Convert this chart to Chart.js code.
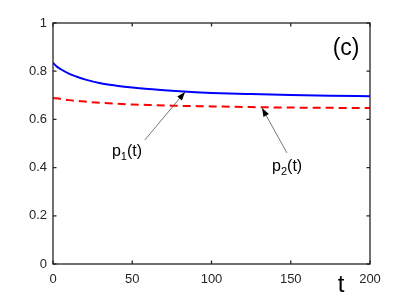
<!DOCTYPE html>
<html>
<head>
<meta charset="utf-8">
<script src="https://cdn.jsdelivr.net/npm/chart.js@4"></script>
<style>
  body { margin: 0; background: #fff; }
</style>
</head>
<body>
<canvas id="c" width="409" height="298"></canvas>
<script>
// time samples and the two curves
var tP1 = [0, 2, 5, 10, 15, 20, 30, 40, 50, 60, 75, 90, 100, 125, 150, 175, 200];
var p1 = [0.835, 0.822, 0.808, 0.790, 0.777, 0.766, 0.750, 0.740, 0.732, 0.726, 0.719, 0.713, 0.710, 0.705, 0.701, 0.698, 0.696];
var tP2 = [0, 5, 10, 20, 30, 40, 50, 60, 75, 100, 125, 150, 175, 200];
var p2 = [0.689, 0.685, 0.680, 0.674, 0.669, 0.665, 0.662, 0.660, 0.657, 0.654, 0.651, 0.649, 0.648, 0.647];
var xTicks = [0, 50, 100, 150, 200];
var yTicks = [0, 0.2, 0.4, 0.6, 0.8, 1];
var yTickLabels = ['0', '0.2', '0.4', '0.6', '0.8', '1'];

var FONT = '"Liberation Sans", Arial, sans-serif';
var AX = '#262626';

function pts(xs, ys) {
  return xs.map(function(x, i) { return {x: x, y: ys[i]}; });
}

// box, inward ticks and text labels drawn on top (matlab look)
var decor = {
  id: 'decor',
  afterDraw: function(chart) {
    var c = chart.ctx, a = chart.chartArea;
    var sx = chart.scales.x, sy = chart.scales.y;
    c.save();
    c.strokeStyle = AX;
    c.lineWidth = 1.3;
    c.strokeRect(a.left, a.top, a.right - a.left, a.bottom - a.top);
    var tl = 3.5;
    c.beginPath();
    xTicks.forEach(function(v) {
      var px = sx.getPixelForValue(v);
      c.moveTo(px, a.bottom); c.lineTo(px, a.bottom - tl);
      c.moveTo(px, a.top); c.lineTo(px, a.top + tl);
    });
    yTicks.forEach(function(v) {
      var py = sy.getPixelForValue(v);
      c.moveTo(a.left, py); c.lineTo(a.left + tl, py);
      c.moveTo(a.right, py); c.lineTo(a.right - tl, py);
    });
    c.stroke();

    // arrows
    function arrow(x0, y0, x1, y1) {
      var X0 = sx.getPixelForValue(x0), Y0 = sy.getPixelForValue(y0);
      var X1 = sx.getPixelForValue(x1), Y1 = sy.getPixelForValue(y1);
      var ang = Math.atan2(Y1 - Y0, X1 - X0);
      c.strokeStyle = '#555';
      c.lineWidth = 0.8;
      c.beginPath(); c.moveTo(X0, Y0); c.lineTo(X1, Y1); c.stroke();
      c.fillStyle = '#000';
      c.beginPath();
      c.moveTo(X1, Y1);
      c.lineTo(X1 - 9 * Math.cos(ang - 0.35), Y1 - 9 * Math.sin(ang - 0.35));
      c.lineTo(X1 - 9 * Math.cos(ang + 0.35), Y1 - 9 * Math.sin(ang + 0.35));
      c.closePath(); c.fill();
    }
    arrow(58, 0.515, 83.3, 0.714);
    arrow(147.6, 0.461, 131.9, 0.647);

    // p_i(t) labels with subscripts
    function plabel(x, y, sub) {
      var X = sx.getPixelForValue(x), Y = sy.getPixelForValue(y);
      c.fillStyle = '#000';
      c.textBaseline = 'alphabetic';
      c.textAlign = 'left';
      c.font = '16px ' + FONT;
      c.fillText('p', X, Y);
      var w = c.measureText('p').width;
      c.font = '11px ' + FONT;
      c.fillText(sub, X + w, Y + 4);
      var w2 = c.measureText(sub).width;
      c.font = '16px ' + FONT;
      c.fillText('(t)', X + w + w2, Y);
    }
    plabel(37.2, 0.45, '1');
    plabel(138.2, 0.385, '2');

    c.fillStyle = '#000';
    c.font = '23px ' + FONT;
    c.textAlign = 'center';
    c.textBaseline = 'middle';
    c.fillText('(c)', sx.getPixelForValue(184.9), sy.getPixelForValue(0.892));
    c.font = '24px ' + FONT;
    c.textBaseline = 'alphabetic';
    c.fillText('t', 341, 292);
    c.restore();
  }
};

new Chart(document.getElementById('c'), {
  type: 'line',
  data: {
    datasets: [{
      label: 'p1(t)',
      data: pts(tP1, p1),
      borderColor: '#0000ff',
      borderWidth: 2,
      pointRadius: 0,
      cubicInterpolationMode: 'monotone',
      fill: false
    }, {
      label: 'p2(t)',
      data: pts(tP2, p2),
      borderColor: '#ff0000',
      borderWidth: 2,
      borderDash: [8, 5],
      pointRadius: 0,
      cubicInterpolationMode: 'monotone',
      fill: false
    }]
  },
  options: {
    responsive: false,
    animation: false,
    layout: { padding: { left: 0, top: 23, right: 39, bottom: 0 } },
    plugins: { legend: { display: false }, tooltip: { enabled: false } },
    scales: {
      x: {
        type: 'linear', min: 0, max: 200,
        afterFit: function(s) { s.height = 34; },
        afterBuildTicks: function(s) { s.ticks = xTicks.map(function(v) { return {value: v}; }); },
        grid: { display: false, drawTicks: false },
        border: { display: false },
        ticks: { color: AX, padding: 8, font: { family: FONT, size: 13 } }
      },
      y: {
        min: 0, max: 1,
        afterFit: function(s) { s.width = 53; },
        afterBuildTicks: function(s) { s.ticks = yTicks.map(function(v) { return {value: v}; }); },
        grid: { display: false, drawTicks: false },
        border: { display: false },
        ticks: {
          color: AX, padding: 6, font: { family: FONT, size: 13 },
          callback: function(v, i) { return yTickLabels[i]; }
        }
      }
    }
  },
  plugins: [decor]
});
</script>
</body>
</html>
